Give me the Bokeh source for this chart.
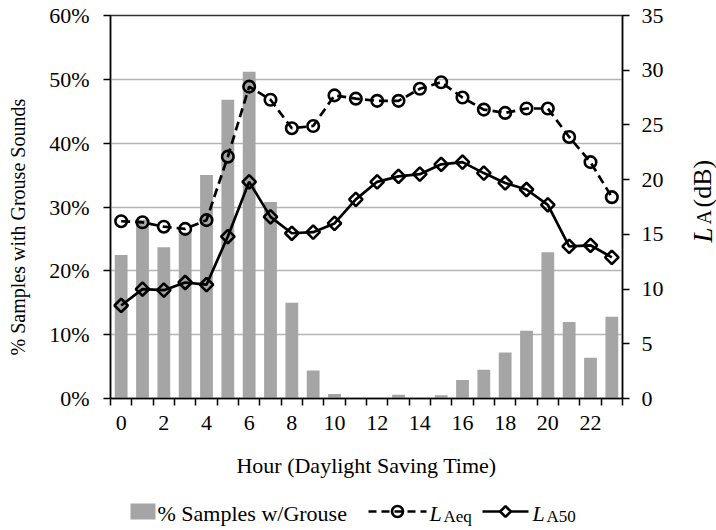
import numpy as np
from bokeh.plotting import figure
from bokeh.models import (Range1d, LinearAxis, FixedTicker, NumeralTickFormatter,
                          ColumnDataSource)
from bokeh.core.properties import value
from bokeh.layouts import column, row
from bokeh.embed import file_html
from bokeh.resources import INLINE

hours = list(range(24))
hour_labels = [str(h) for h in range(0, 24, 2)]
pct_grouse = [22.5, 28.0, 23.7, 26.0, 35.0, 46.8, 51.2, 30.8, 15.0, 4.4, 0.7, 0.0,
              0.0, 0.6, 0.0, 0.5, 2.9, 4.5, 7.2, 10.6, 22.9, 12.0, 6.4, 12.8]
laeq = [16.2, 16.1, 15.7, 15.5, 16.3, 22.1, 28.5, 27.3, 24.7, 24.9, 27.7, 27.4,
        27.2, 27.2, 28.3, 28.9, 27.5, 26.4, 26.1, 26.5, 26.5, 23.9, 21.6, 18.4]
la50 = [8.5, 10.0, 9.9, 10.6, 10.4, 14.8, 19.8, 16.6, 15.1, 15.2, 16.0, 18.2,
        19.8, 20.3, 20.5, 21.4, 21.6, 20.6, 19.7, 19.1, 17.7, 13.9, 14.0, 12.9]
pct_ticks = [0, 10, 20, 30, 40, 50, 60]
db_ticks = [0, 5, 10, 15, 20, 25, 30, 35]
x_title = "Hour (Daylight Saving Time)"
y_title = "% Samples with Grouse Sounds"
legend_bar = "% Samples w/Grouse"

FONT = "Liberation Serif"
VF = value(FONT)
BAR = "#a5a5a5"
FS = "22px"

src = ColumnDataSource(dict(h=hours, pct=[v / 100 for v in pct_grouse], laeq=laeq, la50=la50))

# ---------------- main chart ----------------
p = figure(width=636, height=490, x_range=Range1d(-0.5, 23.5), y_range=Range1d(0, 0.6),
           output_backend="svg", toolbar_location=None,
           min_border_left=70, min_border_right=54, min_border_top=15, min_border_bottom=92)
p.extra_y_ranges = {"db": Range1d(0, 35)}
p.outline_line_color = "#333333"
p.outline_line_width = 1.5
p.xgrid.visible = False
p.ygrid.ticker = FixedTicker(ticks=[t / 100 for t in pct_ticks])
p.ygrid.grid_line_color = "#b4b4b4"
p.ygrid.grid_line_width = 1.5

p.vbar(x="h", top="pct", width=0.6, source=src, fill_color=BAR, line_color=None)

p.line("h", "laeq", source=src, y_range_name="db", line_color="black", line_width=2.7,
       line_dash="9 5")
p.scatter("h", "laeq", source=src, y_range_name="db", marker="circle", size=11.5,
          fill_color=None, line_color="black", line_width=2.6)
p.line("h", "la50", source=src, y_range_name="db", line_color="black", line_width=2.7)
p.scatter("h", "la50", source=src, y_range_name="db", marker="square", angle=np.pi / 4,
          size=9.5, fill_color=None, line_color="black", line_width=2.6)

xa = p.xaxis[0]
xa.ticker = FixedTicker(ticks=list(range(0, 24, 2)), minor_ticks=[h - 0.5 for h in range(25)])
xa.major_label_overrides = {int(s): s for s in hour_labels}
xa.minor_tick_out = 7
xa.minor_tick_in = 0
xa.minor_tick_line_width = 1.5
xa.minor_tick_line_color = "black"
xa.axis_label = x_title
xa.axis_label_standoff = 20
xa.major_label_standoff = 10

ya = p.yaxis[0]
ya.ticker = FixedTicker(ticks=[t / 100 for t in pct_ticks])
ya.formatter = NumeralTickFormatter(format="0%")
ya.major_label_standoff = 14
ya.minor_tick_line_color = None

ra = LinearAxis(y_range_name="db", ticker=FixedTicker(ticks=db_ticks))
ra.major_label_standoff = 12
ra.minor_tick_line_color = None
p.add_layout(ra, "right")

for ax in [xa, ya, ra]:
    ax.axis_line_color = "black"
    ax.axis_line_width = 1.5
    ax.major_tick_line_color = "black"
    ax.major_tick_line_width = 1.5
    ax.major_tick_out = 7
    ax.major_tick_in = 0
    ax.major_label_text_font = FONT
    ax.major_label_text_font_size = FS
    ax.major_label_text_color = "black"
    ax.axis_label_text_font = FONT
    ax.axis_label_text_font_size = FS
    ax.axis_label_text_font_style = "normal"
    ax.axis_label_text_color = "black"
xa.major_tick_line_color = None


def side_fig(width, x0):
    f = figure(width=width, height=490, x_range=Range1d(x0, x0 + width), y_range=Range1d(92, 475),
               output_backend="svg", toolbar_location=None, min_border_left=0, min_border_right=0,
               min_border_top=15, min_border_bottom=92)
    f.axis.visible = False
    f.grid.visible = False
    f.outline_line_color = None
    return f


# ---------------- left axis title ----------------
lf = side_fig(40, 0)
lf.text(x=[17], y=[490 - 355], text=[y_title], angle=np.pi / 2, text_font=VF,
        text_font_size="20px", text_align="left", text_baseline="alphabetic", text_color="black")

# ---------------- right axis title  L_A(dB) ----------------
rf = side_fig(40, 676)
rf.text(x=[702], y=[490 - 242], text=["L"], angle=np.pi / 2, text_font=VF,
        text_font_size="27px", text_font_style="italic", text_align="left",
        text_baseline="alphabetic", text_color="black")
rf.text(x=[703], y=[490 - 224], text=["A"], angle=np.pi / 2, text_font=VF,
        text_font_size="20px", text_align="left", text_baseline="alphabetic", text_color="black")
rf.text(x=[702], y=[490 - 207], text=["(dB)"], angle=np.pi / 2, text_font=VF,
        text_font_size="26px", text_align="left", text_baseline="alphabetic", text_color="black")

# ---------------- legend ----------------
q = figure(width=716, height=40, x_range=Range1d(110, 622), y_range=Range1d(40, 0),
           output_backend="svg", toolbar_location=None, min_border_left=110,
           min_border_right=94, min_border_top=0, min_border_bottom=0)
q.axis.visible = False
q.grid.visible = False
q.outline_line_color = None
ly = 21
tb = ly + 2   # text baseline (compensates renderer offset)
q.quad(left=[130], right=[155], top=[ly - 8], bottom=[ly + 8], fill_color=BAR, line_color=None)
q.text(x=[157], y=[tb], text=[legend_bar], text_font=VF, text_font_size=FS,
       text_baseline="alphabetic", text_color="black")
q.line([368, 426], [ly, ly], line_color="black", line_width=2.6, line_dash="8 5")
q.scatter([397], [ly], marker="circle", size=11, fill_color=None, line_color="black", line_width=2.6)
q.text(x=[429], y=[tb], text=["L"], text_font=VF, text_font_size=FS,
       text_font_style="italic", text_baseline="alphabetic", text_color="black")
q.text(x=[443], y=[tb + 3], text=["Aeq"], text_font=VF, text_font_size="17px",
       text_baseline="alphabetic", text_color="black")
q.line([482, 528], [ly, ly], line_color="black", line_width=2.6)
q.scatter([505], [ly], marker="square", angle=np.pi / 4, size=7.5, fill_color="white",
          line_color="black", line_width=2.6)
q.text(x=[532], y=[tb], text=["L"], text_font=VF, text_font_size=FS,
       text_font_style="italic", text_baseline="alphabetic", text_color="black")
q.text(x=[546], y=[tb + 3], text=["A50"], text_font=VF, text_font_size="17px",
       text_baseline="alphabetic", text_color="black")

layout = column(row(lf, p, rf, spacing=0), q, spacing=0)
open("out.html", "w").write(file_html(layout, INLINE))
